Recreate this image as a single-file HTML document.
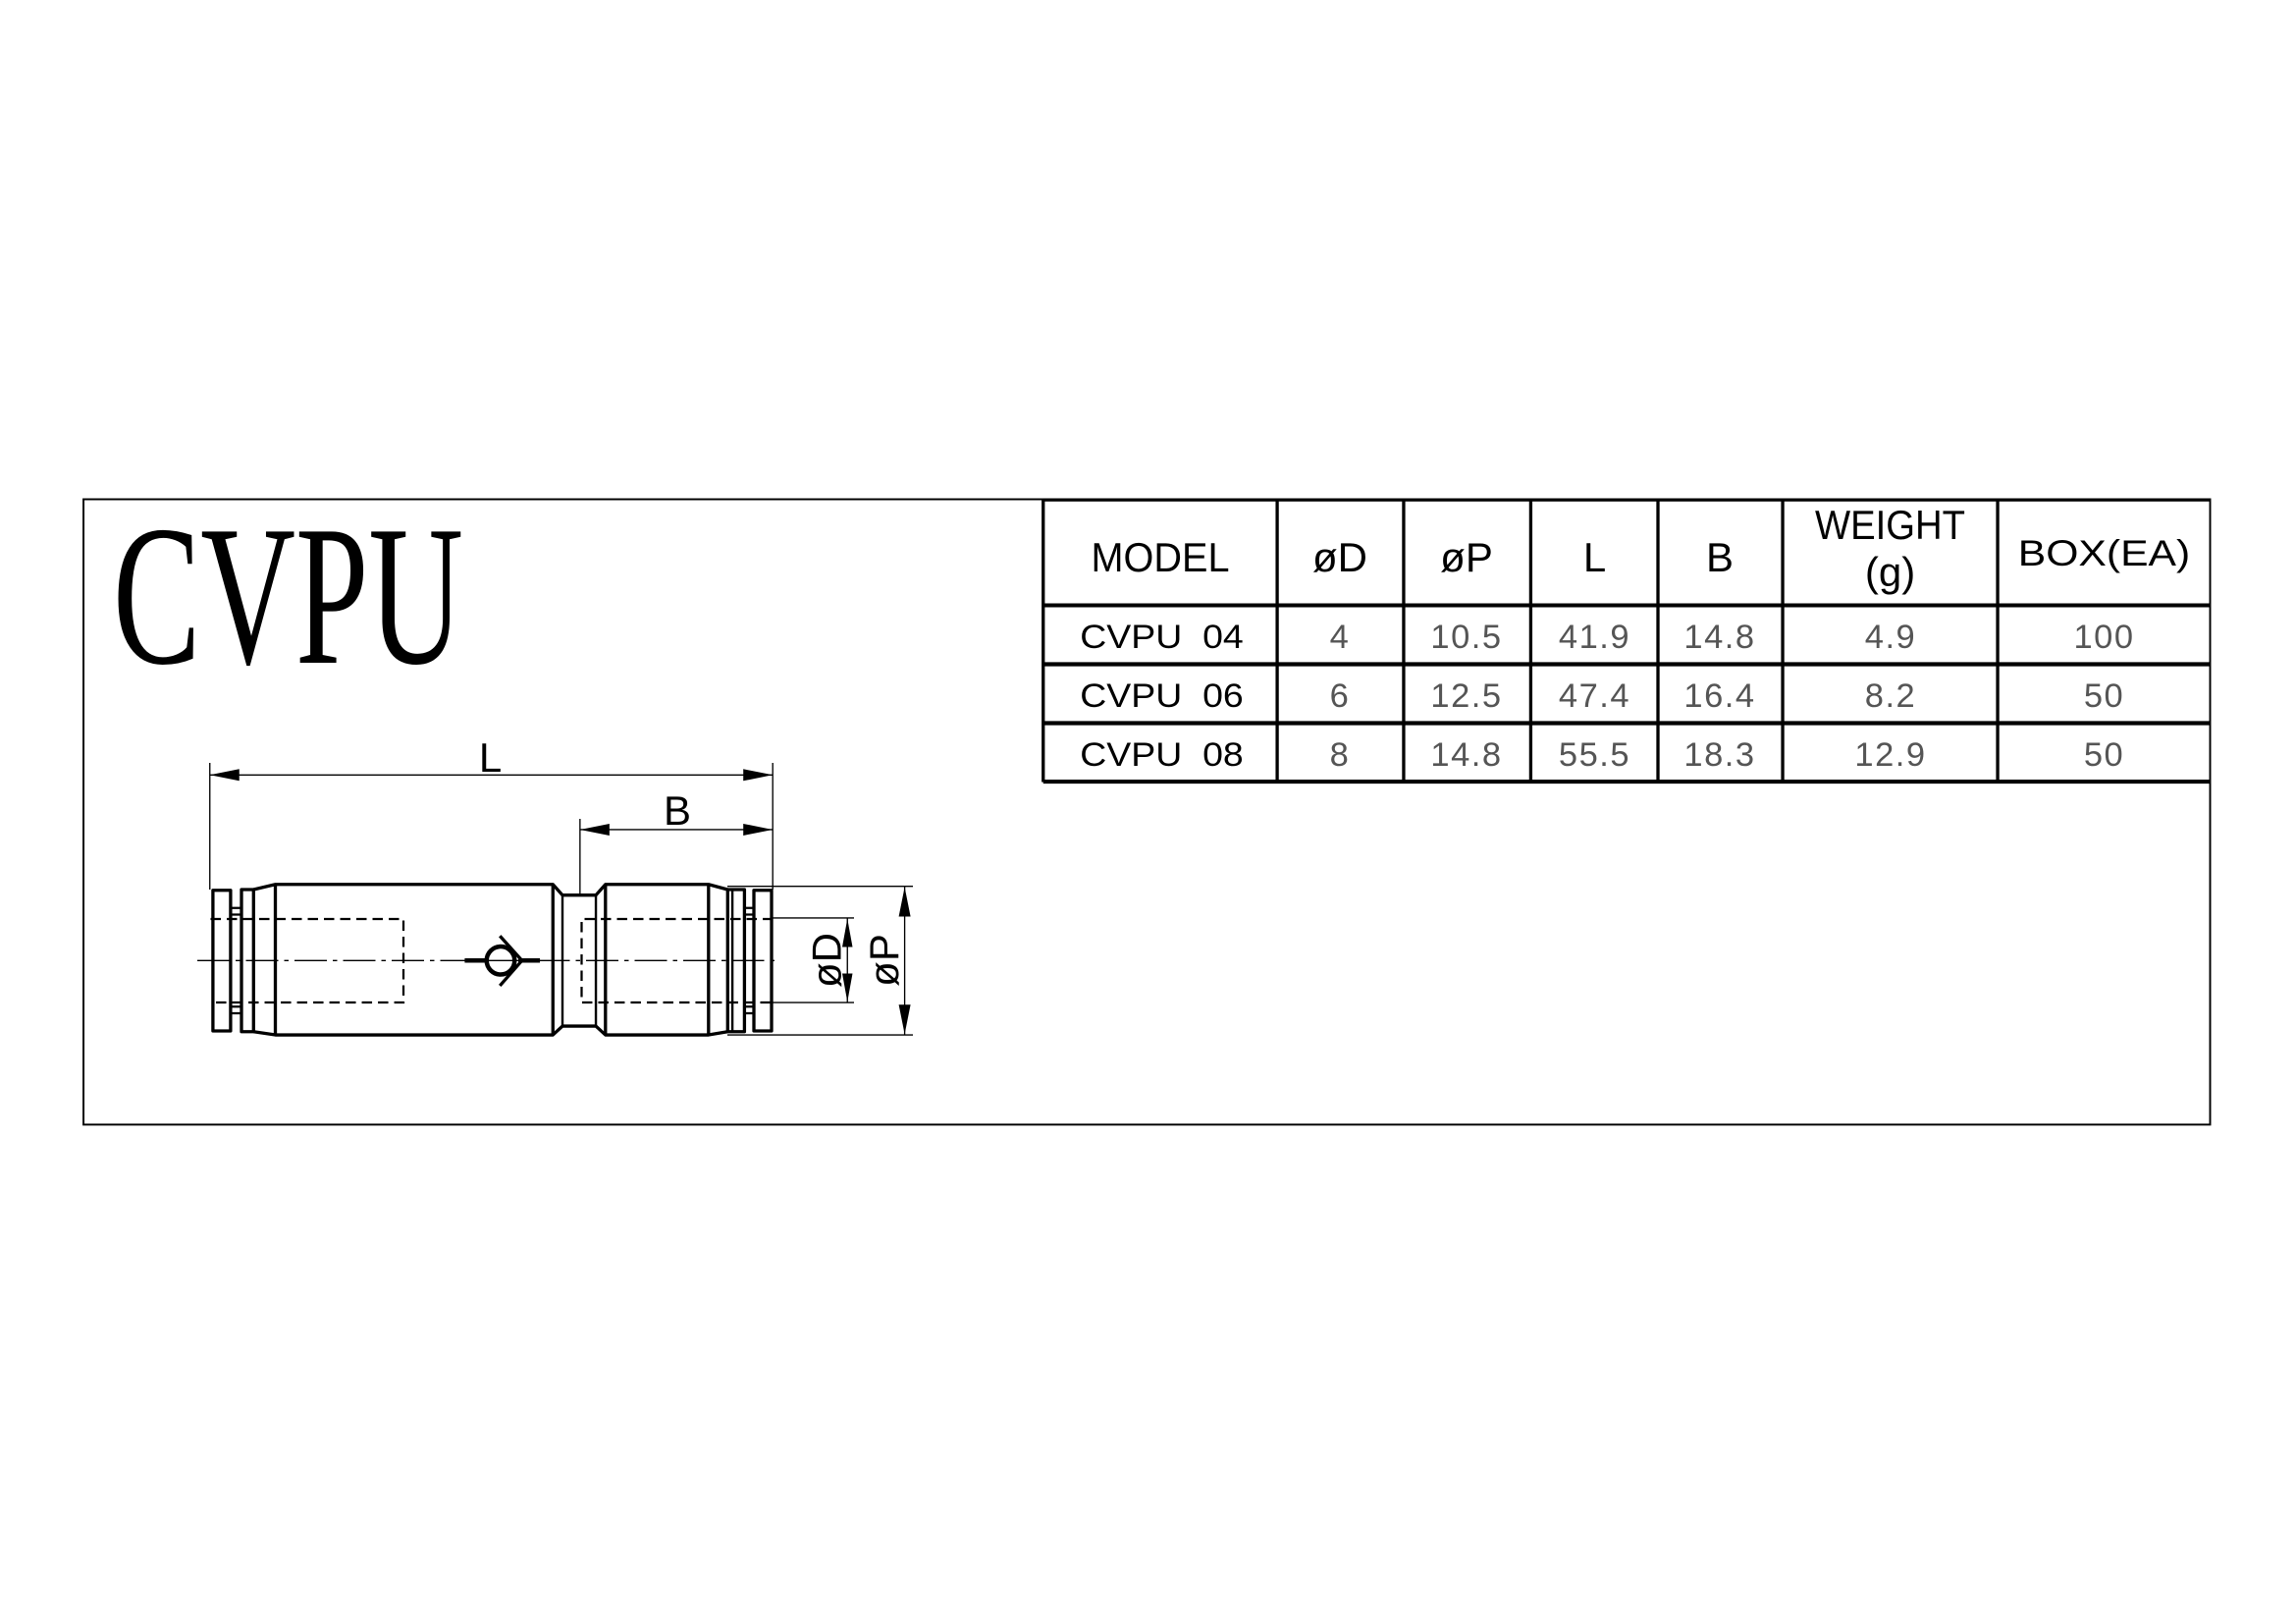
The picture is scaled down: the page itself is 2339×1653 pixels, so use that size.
<!DOCTYPE html>
<html><head><meta charset="utf-8"><style>
html,body{margin:0;padding:0;background:#fff;}
svg{display:block}
text{font-family:"Liberation Sans",sans-serif;}
</style></head><body>
<svg width="2339" height="1653" viewBox="0 0 1559.33 1102" xmlns="http://www.w3.org/2000/svg">
<rect width="1559.33" height="1102" fill="#fff"/>
<!-- frame -->
<rect x="56.7" y="339" width="1444.3" height="424.6" fill="none" stroke="#000" stroke-width="1.3"/>
<!-- title -->
<text x="76.7" y="450" style="font-family:'Liberation Serif',serif" font-size="136" textLength="238" lengthAdjust="spacingAndGlyphs">CVPU</text>

<!-- table -->
<g stroke="#000" fill="none">
<line x1="708.5" y1="339.4" x2="1501" y2="339.4" stroke-width="2.2"/>
<line x1="708.5" y1="411" x2="1501" y2="411" stroke-width="2.6"/>
<line x1="708.5" y1="451" x2="1501" y2="451" stroke-width="2.8"/>
<line x1="708.5" y1="491" x2="1501" y2="491" stroke-width="2.8"/>
<line x1="708.5" y1="530.7" x2="1501" y2="530.7" stroke-width="2.8"/>
<g stroke-width="2.2">
<line x1="708.5" y1="339" x2="708.5" y2="531"/>
<line x1="867.4" y1="339" x2="867.4" y2="531"/>
<line x1="953.3" y1="339" x2="953.3" y2="531"/>
<line x1="1039.6" y1="339" x2="1039.6" y2="531"/>
<line x1="1126" y1="339" x2="1126" y2="531"/>
<line x1="1210.7" y1="339" x2="1210.7" y2="531"/>
<line x1="1356.7" y1="339" x2="1356.7" y2="531"/>
</g>
</g>
<g font-size="28" text-anchor="middle" fill="#000">
<text x="788" y="388" textLength="94" lengthAdjust="spacingAndGlyphs">MODEL</text>
<text x="910" y="388">øD</text>
<text x="996" y="388">øP</text>
<text x="1083" y="388">L</text>
<text x="1168" y="388">B</text>
<text x="1283.7" y="366" textLength="102" lengthAdjust="spacingAndGlyphs">WEIGHT</text>
<text x="1283.7" y="398">(g)</text>
<text x="1429" y="384" font-size="25" textLength="117" lengthAdjust="spacingAndGlyphs">BOX(EA)</text>
</g>
<g font-size="23" fill="#000">
<text x="733.5" y="440" textLength="111" lengthAdjust="spacingAndGlyphs">CVPU&#160;&#160;04</text>
<text x="733.5" y="480" textLength="111" lengthAdjust="spacingAndGlyphs">CVPU&#160;&#160;06</text>
<text x="733.5" y="520" textLength="111" lengthAdjust="spacingAndGlyphs">CVPU&#160;&#160;08</text>
</g>
<g font-size="23" fill="#555" text-anchor="middle" letter-spacing="1">
<text x="910" y="440">4</text><text x="996" y="440">10.5</text><text x="1083" y="440">41.9</text><text x="1168" y="440">14.8</text><text x="1284" y="440">4.9</text><text x="1429" y="440">100</text>
<text x="910" y="480">6</text><text x="996" y="480">12.5</text><text x="1083" y="480">47.4</text><text x="1168" y="480">16.4</text><text x="1284" y="480">8.2</text><text x="1429" y="480">50</text>
<text x="910" y="520">8</text><text x="996" y="520">14.8</text><text x="1083" y="520">55.5</text><text x="1168" y="520">18.3</text><text x="1284" y="520">12.9</text><text x="1429" y="520">50</text>
</g>

<!-- part drawing -->
<g stroke="#000" fill="none" stroke-width="2.2" stroke-linejoin="round">
<rect x="144.6" y="604.5" width="12" height="95.5"/>
<rect x="156.6" y="616.5" width="7.4" height="4.5" stroke-width="1.5"/>
<rect x="156.6" y="683.5" width="7.4" height="4.5" stroke-width="1.5"/>
<rect x="164" y="604" width="8.2" height="96.5"/>
<path d="M172.2 604 L187 600.5 L375.5 600.5 L382 607.8 L404.7 607.8 L411.2 600.5 L481.2 600.5 L494.2 604"/>
<path d="M172.2 700.5 L187 702.7 L375.5 702.7 L382 696.7 L404.7 696.7 L411.2 702.7 L481.2 702.7 L494.2 700.5"/>
<line x1="187" y1="600.5" x2="187" y2="702.7"/>
<line x1="375.5" y1="600.5" x2="375.5" y2="702.7"/>
<line x1="382" y1="607.8" x2="382" y2="696.7" stroke-width="1.6"/>
<line x1="404.7" y1="607.8" x2="404.7" y2="696.7" stroke-width="1.6"/>
<line x1="411.2" y1="600.5" x2="411.2" y2="702.7"/>
<line x1="481.2" y1="600.5" x2="481.2" y2="702.7"/>
<rect x="494.2" y="604" width="11.4" height="96.5"/>
<line x1="497.4" y1="604" x2="497.4" y2="700.5" stroke-width="1.6"/>
<rect x="505.6" y="616.5" width="6.4" height="4.5" stroke-width="1.5"/>
<rect x="505.6" y="683.5" width="6.4" height="4.5" stroke-width="1.5"/>
<rect x="512" y="604.5" width="12" height="95.5"/>
</g>
<!-- hidden bore -->
<g stroke="#000" fill="none" stroke-width="1.5" stroke-dasharray="7,4">
<path d="M143 624 H274 V680.7 H143"/>
<path d="M525 624 H395 V680.7 H525"/>
</g>
<!-- center line -->
<line x1="134" y1="652.2" x2="530" y2="652.2" stroke="#000" stroke-width="0.9" stroke-dasharray="22,4,3,4"/>
<!-- check valve symbol -->
<g stroke="#000" fill="none">
<circle cx="340" cy="652.2" r="9.5" stroke-width="3"/>
<path d="M339.5 635.5 L354.5 652.2 L339.5 669.3" stroke-width="2.2"/>
<line x1="315.6" y1="652.2" x2="330" y2="652.2" stroke-width="3"/>
<line x1="352" y1="652.2" x2="366.7" y2="652.2" stroke-width="3"/>
</g>
<!-- dimensions -->
<g stroke="#000" stroke-width="0.9" fill="none">
<line x1="142.5" y1="518" x2="142.5" y2="604"/>
<line x1="524.8" y1="518" x2="524.8" y2="604"/>
<line x1="393.9" y1="556" x2="393.9" y2="607"/>
<line x1="142.5" y1="526.2" x2="524.8" y2="526.2"/>
<line x1="393.9" y1="563.3" x2="524.8" y2="563.3"/>
<line x1="524" y1="623.3" x2="580" y2="623.3"/>
<line x1="524" y1="680.7" x2="580" y2="680.7"/>
<line x1="494" y1="601.8" x2="620" y2="601.8"/>
<line x1="494" y1="702.7" x2="620" y2="702.7"/>
<line x1="575.5" y1="623.3" x2="575.5" y2="680.7"/>
<line x1="614.4" y1="601.8" x2="614.4" y2="702.7"/>
</g>
<g fill="#000">
<path d="M142.5 526.2 L162.5 522.2 L162.5 530.2Z"/>
<path d="M524.8 526.2 L504.8 522.2 L504.8 530.2Z"/>
<path d="M393.9 563.3 L413.9 559.3 L413.9 567.3Z"/>
<path d="M524.8 563.3 L504.8 559.3 L504.8 567.3Z"/>
<path d="M575.5 623.8 L572 643 L579 643Z"/>
<path d="M575.5 680.2 L572 661 L579 661Z"/>
<path d="M614.4 602.3 L610.4 622.3 L618.4 622.3Z"/>
<path d="M614.4 702.2 L610.4 682.2 L618.4 682.2Z"/>
</g>
<g font-size="28" fill="#000" text-anchor="middle">
<text x="333" y="524">L</text>
<text x="460" y="560">B</text>
<text transform="translate(571,652) rotate(-90)">øD</text>
<text transform="translate(610,652) rotate(-90)">øP</text>
</g>
</svg>
</body></html>
